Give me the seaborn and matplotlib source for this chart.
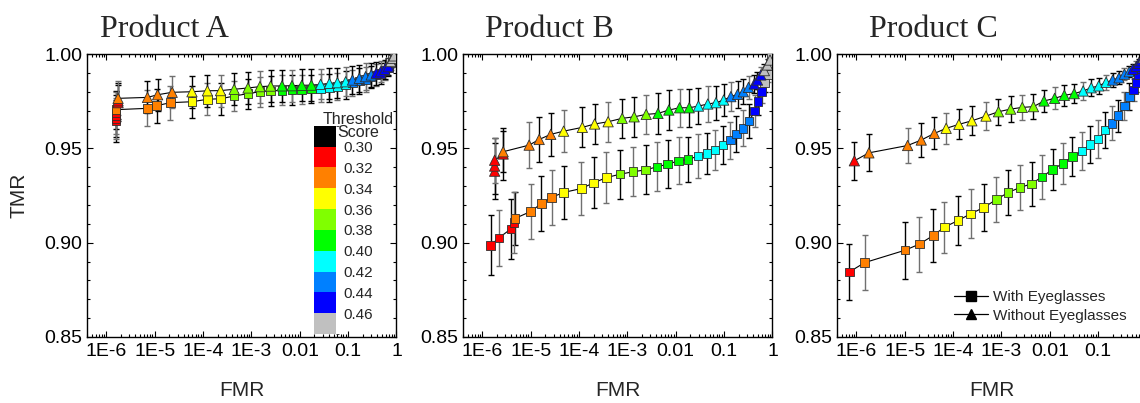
"""
Recreates the TMR vs FMR comparison (three products, with / without eyeglasses).
Marker colour encodes the threshold score.
"""

import matplotlib

matplotlib.use("Agg")

import matplotlib.pyplot as plt
import numpy as np
import pandas as pd
import seaborn as sns
from matplotlib.cm import ScalarMappable
from matplotlib.colors import BoundaryNorm, ListedColormap
from matplotlib.lines import Line2D
from matplotlib.ticker import FixedLocator, LogLocator, MultipleLocator, NullFormatter

# --- Threshold colour scale ---
SCORE_BOUNDS = [0.28, 0.30, 0.32, 0.34, 0.36, 0.38, 0.40, 0.42, 0.44, 0.46, 0.48]
SCORE_COLORS = ["#000000", "#FF0000", "#FF8000", "#FFFF00", "#80FF00",
                "#00FF00", "#00FFFF", "#0080FF", "#0000FF", "#C0C0C0"]
SCORE_TICKS = [0.30, 0.32, 0.34, 0.36, 0.38, 0.40, 0.42, 0.44, 0.46]

TITLES = ["Product A", "Product B", "Product C"]
XTICKS = [1e-6, 1e-5, 1e-4, 1e-3, 1e-2, 1e-1, 1]
XTICK_LABELS = ["1E-6", "1E-5", "1E-4", "1E-3", "0.01", "0.1", "1"]
YTICKS = [0.85, 0.90, 0.95, 1.00]

# --- Product A ---
A_WITH_FMR = [1.6e-6, 1.6e-6, 1.6e-6, 1.6e-6, 1.6e-6, 7.1e-6, 1.1e-5, 2.1e-5, 5.9e-5, 1.23e-4, 2.3e-4,
              4.4e-4, 8.5e-4, 1.5e-3, 2.5e-3, 4.3e-3, 6.9e-3, 1.1e-2, 1.74e-2, 2.7e-2, 4.1e-2, 6.0e-2,
              8.9e-2, 0.123, 0.17, 0.23, 0.30, 0.38, 0.47, 0.575, 0.68, 0.76, 0.83, 0.89]
A_WITH_TMR = [0.9645, 0.9658, 0.9672, 0.9688, 0.9705, 0.9712, 0.9726, 0.9742, 0.9747, 0.9760, 0.9763,
              0.9777, 0.9790, 0.9800, 0.9805, 0.9808, 0.9810, 0.9812, 0.9814, 0.9818, 0.9822, 0.9828,
              0.9836, 0.9846, 0.9856, 0.9866, 0.9878, 0.9888, 0.9898, 0.9912, 0.9928, 0.9955, 0.9972, 0.9985]
A_WITH_ERR = [0.011, 0.011, 0.011, 0.011, 0.010, 0.0095, 0.009, 0.009, 0.0085, 0.0085, 0.0085,
              0.008, 0.008, 0.008, 0.008, 0.008, 0.0078, 0.0077, 0.0076, 0.0075, 0.0074, 0.0073,
              0.0072, 0.007, 0.0068, 0.0065, 0.006, 0.0058, 0.0055, 0.005, 0.0045, 0.004, 0.003, 0.002]
A_WITH_SCORE = [0.300, 0.305, 0.310, 0.315, 0.320, 0.325, 0.330, 0.335, 0.340, 0.345, 0.350,
                0.360, 0.365, 0.370, 0.375, 0.380, 0.385, 0.390, 0.395, 0.400, 0.405, 0.410,
                0.415, 0.420, 0.425, 0.430, 0.435, 0.440, 0.445, 0.450, 0.455, 0.460, 0.465, 0.470]

A_WITHOUT_FMR = [1.75e-6, 1.75e-6, 1.75e-6, 7.1e-6, 1.15e-5, 2.3e-5, 5.9e-5, 1.23e-4, 2.3e-4,
                 4.4e-4, 8.5e-4, 1.5e-3, 2.5e-3, 4.3e-3, 6.9e-3, 1.1e-2, 1.74e-2, 2.7e-2, 4.1e-2, 6.0e-2,
                 8.9e-2, 0.123, 0.17, 0.23, 0.30, 0.38, 0.47, 0.575, 0.68, 0.76, 0.83, 0.89]
A_WITHOUT_TMR = [0.9742, 0.9752, 0.9765, 0.9770, 0.9784, 0.9797, 0.9800, 0.9805, 0.9806,
                 0.9813, 0.9820, 0.9827, 0.9830, 0.9831, 0.9832, 0.9834, 0.9835, 0.9839, 0.9844, 0.9848,
                 0.9853, 0.9862, 0.9871, 0.9880, 0.9889, 0.9898, 0.9906, 0.9919, 0.9933, 0.9960, 0.9977, 0.9990]
A_WITHOUT_ERR = [0.0095, 0.0095, 0.009, 0.0085, 0.0085, 0.0085, 0.0085, 0.0085, 0.0085,
                 0.0085, 0.0085, 0.0085, 0.0085, 0.0085, 0.0085, 0.0085, 0.0085, 0.008, 0.008, 0.008,
                 0.0078, 0.0075, 0.0072, 0.007, 0.0065, 0.006, 0.0055, 0.005, 0.0045, 0.0035, 0.003, 0.002]
A_WITHOUT_SCORE = [0.310, 0.315, 0.320, 0.325, 0.330, 0.335, 0.340, 0.345, 0.350,
                   0.360, 0.365, 0.370, 0.375, 0.380, 0.385, 0.390, 0.395, 0.400, 0.405, 0.410,
                   0.415, 0.420, 0.425, 0.430, 0.435, 0.440, 0.445, 0.450, 0.455, 0.460, 0.465, 0.470]

# --- Product B ---
B_WITH_FMR = [1.48e-6, 2.2e-6, 3.9e-6, 4.5e-6, 4.7e-6, 1.0e-5, 1.66e-5, 2.7e-5, 4.8e-5, 1.12e-4, 2.0e-4,
              3.7e-4, 7.1e-4, 1.32e-3, 2.4e-3, 4.1e-3, 6.8e-3, 1.15e-2, 1.8e-2, 2.9e-2, 4.4e-2, 6.5e-2,
              9.5e-2, 0.135, 0.18, 0.245, 0.33, 0.43, 0.50, 0.60, 0.69, 0.79, 0.89, 0.955]
B_WITH_TMR = [0.8986, 0.9025, 0.9073, 0.9107, 0.9128, 0.9165, 0.9207, 0.9240, 0.9266, 0.9287, 0.9317,
              0.9345, 0.9363, 0.9376, 0.9386, 0.9402, 0.9416, 0.9434, 0.9441, 0.9459, 0.9473, 0.9491,
              0.9517, 0.9544, 0.9575, 0.9606, 0.9644, 0.9698, 0.9747, 0.9800, 0.9850, 0.9890, 0.9950, 0.9986]
B_WITH_ERR = [0.016, 0.015, 0.016, 0.016, 0.014, 0.0148, 0.0145, 0.0145, 0.014, 0.014, 0.0135,
              0.0135, 0.013, 0.013, 0.013, 0.013, 0.0128, 0.0125, 0.012, 0.0115, 0.011, 0.0105,
              0.010, 0.0098, 0.0097, 0.0095, 0.009, 0.0085, 0.007, 0.006, 0.005, 0.004, 0.003, 0.002]
B_WITH_SCORE = [0.300, 0.305, 0.310, 0.315, 0.320, 0.325, 0.330, 0.335, 0.340, 0.345, 0.350,
                0.355, 0.360, 0.365, 0.370, 0.380, 0.385, 0.390, 0.395, 0.400, 0.405, 0.410,
                0.415, 0.420, 0.425, 0.430, 0.435, 0.440, 0.445, 0.450, 0.460, 0.465, 0.470, 0.475]

B_WITHOUT_FMR = [1.8e-6, 1.8e-6, 1.8e-6, 2.7e-6, 2.7e-6, 9.3e-6, 1.5e-5, 2.6e-5, 4.8e-5, 1.17e-4, 2.1e-4,
                 4.0e-4, 7.8e-4, 1.38e-3, 2.45e-3, 4.3e-3, 7.2e-3, 1.2e-2, 1.9e-2, 2.95e-2, 4.6e-2, 6.8e-2,
                 9.8e-2, 0.138, 0.19, 0.25, 0.32, 0.42, 0.49, 0.575, 0.68, 0.79, 0.89]
B_WITHOUT_TMR = [0.9379, 0.9406, 0.9437, 0.9470, 0.9482, 0.9517, 0.9547, 0.9574, 0.9591, 0.9611, 0.9629,
                 0.9641, 0.9659, 0.9667, 0.9680, 0.9685, 0.9703, 0.9715, 0.9715, 0.9724, 0.9735, 0.9742,
                 0.9756, 0.9774, 0.9786, 0.9800, 0.9823, 0.9841, 0.9862, 0.9889, 0.9912, 0.9942, 0.9968]
B_WITHOUT_ERR = [0.015, 0.015, 0.012, 0.014, 0.011, 0.012, 0.012, 0.0115, 0.011, 0.0106, 0.0105,
                 0.0105, 0.0105, 0.0105, 0.0105, 0.011, 0.0105, 0.010, 0.010, 0.0097, 0.0093, 0.009,
                 0.0085, 0.0075, 0.007, 0.0065, 0.006, 0.005, 0.0045, 0.004, 0.0035, 0.003, 0.002]
B_WITHOUT_SCORE = [0.300, 0.305, 0.310, 0.315, 0.320, 0.325, 0.330, 0.335, 0.340, 0.345, 0.350,
                   0.355, 0.360, 0.365, 0.370, 0.380, 0.385, 0.390, 0.395, 0.400, 0.405, 0.410,
                   0.415, 0.420, 0.425, 0.430, 0.435, 0.440, 0.445, 0.450, 0.460, 0.465, 0.470]

# --- Product C ---
C_WITH_FMR = [7.2e-7, 1.48e-6, 1.02e-5, 2.0e-5, 3.9e-5, 6.6e-5, 1.26e-4, 2.3e-4, 4.3e-4, 7.9e-4, 1.38e-3,
              2.4e-3, 4.2e-3, 6.9e-3, 1.15e-2, 1.86e-2, 2.95e-2, 4.6e-2, 6.8e-2, 0.10, 0.14, 0.195,
              0.26, 0.35, 0.44, 0.54, 0.62, 0.69, 0.78, 0.87, 0.95]
C_WITH_TMR = [0.8845, 0.8894, 0.8960, 0.8992, 0.9038, 0.9082, 0.9117, 0.9153, 0.9186, 0.9229, 0.9266,
              0.9292, 0.9312, 0.9349, 0.9388, 0.9420, 0.9457, 0.9485, 0.9521, 0.9549, 0.9597, 0.9632,
              0.9673, 0.9724, 0.9774, 0.9810, 0.9848, 0.9889, 0.9920, 0.9955, 0.9985]
C_WITH_ERR = [0.015, 0.0146, 0.015, 0.0145, 0.014, 0.0135, 0.013, 0.013, 0.0125, 0.012, 0.012,
              0.0118, 0.0117, 0.0115, 0.011, 0.011, 0.0105, 0.0102, 0.010, 0.0099, 0.0095, 0.009,
              0.0085, 0.0075, 0.007, 0.006, 0.005, 0.0045, 0.004, 0.003, 0.002]
C_WITH_SCORE = [0.315, 0.320, 0.325, 0.330, 0.335, 0.340, 0.345, 0.350, 0.355, 0.360, 0.365,
                0.370, 0.375, 0.380, 0.385, 0.390, 0.395, 0.400, 0.405, 0.410, 0.415, 0.420,
                0.425, 0.430, 0.435, 0.440, 0.445, 0.450, 0.455, 0.460, 0.465]

C_WITHOUT_FMR = [9.1e-7, 1.82e-6, 1.15e-5, 2.2e-5, 4.1e-5, 7.2e-5, 1.32e-4, 2.45e-4, 4.8e-4, 8.7e-4, 1.55e-3,
                 2.7e-3, 4.6e-3, 7.6e-3, 1.26e-2, 2.0e-2, 3.2e-2, 4.9e-2, 7.2e-2, 0.103, 0.146, 0.20,
                 0.27, 0.35, 0.44, 0.52, 0.62, 0.69, 0.78, 0.87, 0.95]
C_WITHOUT_TMR = [0.9434, 0.9476, 0.9515, 0.9544, 0.9579, 0.9606, 0.9627, 0.9646, 0.9671, 0.9694, 0.9708,
                 0.9717, 0.9721, 0.9751, 0.9765, 0.9781, 0.9790, 0.9804, 0.9821, 0.9831, 0.9850, 0.9862,
                 0.9874, 0.9893, 0.9906, 0.9919, 0.9935, 0.9950, 0.9965, 0.9980, 0.9993]
C_WITHOUT_ERR = [0.010, 0.0098, 0.0093, 0.009, 0.0085, 0.0082, 0.008, 0.0077, 0.0073, 0.007, 0.0068,
                 0.0066, 0.0066, 0.006, 0.0058, 0.0055, 0.005, 0.0048, 0.0045, 0.0043, 0.004, 0.0038,
                 0.0035, 0.0033, 0.003, 0.003, 0.0028, 0.0025, 0.002, 0.0015, 0.001]
C_WITHOUT_SCORE = [0.315, 0.320, 0.325, 0.330, 0.335, 0.340, 0.345, 0.350, 0.355, 0.360, 0.365,
                   0.370, 0.375, 0.380, 0.385, 0.390, 0.395, 0.400, 0.405, 0.410, 0.415, 0.420,
                   0.425, 0.430, 0.435, 0.440, 0.445, 0.450, 0.455, 0.460, 0.465]

GREY_BAR = "#707070"

sns.set_style("ticks")
plt.rcParams["font.family"] = ["Liberation Sans", "DejaVu Sans"]


def frame(fmr, tmr, err, score):
    df = pd.DataFrame({"fmr": fmr, "tmr": tmr, "err": err, "score": score})
    df["bin"] = np.digitize(df["score"], SCORE_BOUNDS) - 1
    return df


def draw_series(ax, df, marker, size, grey_mod, grey_hit, z):
    sns.lineplot(data=df, x="fmr", y="tmr", estimator=None, sort=False,
                 color="black", lw=0.8, ax=ax, zorder=2)
    grey = (np.arange(len(df)) % grey_mod) == grey_hit
    for mask, col in ((~grey, "black"), (grey, GREY_BAR)):
        sub = df[mask]
        ax.errorbar(sub["fmr"], sub["tmr"], yerr=sub["err"], fmt="none", ecolor=col,
                    elinewidth=1.0, capsize=2.3, capthick=1.0, zorder=1.5)
    sns.scatterplot(data=df, x="fmr", y="tmr", hue="bin",
                    palette={i: c for i, c in enumerate(SCORE_COLORS)},
                    marker=marker, s=size, edgecolor="#303030", linewidth=0.6,
                    legend=False, ax=ax, zorder=z)


PANEL_DATA = [
    (frame(A_WITH_FMR, A_WITH_TMR, A_WITH_ERR, A_WITH_SCORE),
     frame(A_WITHOUT_FMR, A_WITHOUT_TMR, A_WITHOUT_ERR, A_WITHOUT_SCORE)),
    (frame(B_WITH_FMR, B_WITH_TMR, B_WITH_ERR, B_WITH_SCORE),
     frame(B_WITHOUT_FMR, B_WITHOUT_TMR, B_WITHOUT_ERR, B_WITHOUT_SCORE)),
    (frame(C_WITH_FMR, C_WITH_TMR, C_WITH_ERR, C_WITH_SCORE),
     frame(C_WITHOUT_FMR, C_WITHOUT_TMR, C_WITHOUT_ERR, C_WITHOUT_SCORE)),
]

fig = plt.figure(figsize=(11.4, 4.03), dpi=100)
lefts = [0.0763, 0.4061, 0.7342]
title_x = [0.042, 0.071, 0.104]
axes = [fig.add_axes([l, 0.1638, 0.2715, 0.7022]) for l in lefts]

for i, (ax, (with_df, without_df)) in enumerate(zip(axes, PANEL_DATA)):
    ax.set_xscale("log")
    draw_series(ax, with_df, "s", 38, 2, 1, 3)
    draw_series(ax, without_df, "^", 55, 3, 2, 3.1)

    ax.set_xlim(10 ** -6.4, 1)
    ax.set_ylim(0.85, 1.0)
    ax.xaxis.set_major_locator(FixedLocator(XTICKS))
    labels = list(XTICK_LABELS)
    if i == 2:
        labels[-1] = ""  # this tick falls past the right edge of the picture
    ax.set_xticklabels(labels)
    ax.xaxis.set_minor_locator(LogLocator(base=10, subs=np.arange(2, 10), numticks=30))
    ax.xaxis.set_minor_formatter(NullFormatter())
    ax.yaxis.set_major_locator(FixedLocator(YTICKS))
    ax.set_yticklabels([f"{v:.2f}" for v in YTICKS])
    ax.yaxis.set_minor_locator(MultipleLocator(0.01))
    ax.tick_params(which="both", direction="in", top=True, right=True, width=0.8, colors="black")
    ax.tick_params(which="major", length=4.5, labelsize=14)
    ax.tick_params(axis="x", which="major", pad=4)
    ax.tick_params(axis="y", which="major", pad=3.5)
    ax.tick_params(which="minor", length=2.5)
    for sp in ax.spines.values():
        sp.set_color("black")
        sp.set_linewidth(1.0)

    ax.set_xlabel("FMR", fontsize=15)
    ax.xaxis.set_label_coords(0.5, -0.155)
    ax.set_ylabel("")
    ax.text(title_x[i], 1.06, TITLES[i], transform=ax.transAxes, ha="left", va="baseline",
            fontsize=23, family="Liberation Serif")

axes[0].set_ylabel("TMR", fontsize=15)
axes[0].yaxis.set_label_coords(-0.19, 0.5)

# Threshold score colour key in the first panel
cmap = ListedColormap(SCORE_COLORS)
norm = BoundaryNorm(SCORE_BOUNDS, cmap.N)
cax = axes[0].inset_axes([0.732, 0.0106, 0.074, 0.7356])
cb = fig.colorbar(ScalarMappable(norm=norm, cmap=cmap), cax=cax, ticks=SCORE_TICKS)
cb.outline.set_visible(False)
cax.invert_yaxis()
cax.tick_params(length=0, labelsize=11, pad=5)
cb.set_ticklabels([f"{v:.2f}" for v in SCORE_TICKS])
axes[0].text(0.877, 0.706, "Threshold\nScore", transform=axes[0].transAxes, ha="center",
             va="baseline", fontsize=11.5, linespacing=0.82)

# Marker legend in the last panel
handles = [
    Line2D([], [], color="black", lw=0.9, marker="s", markersize=6.5, label="With Eyeglasses"),
    Line2D([], [], color="black", lw=0.9, marker="^", markersize=7.5, label="Without Eyeglasses"),
]
axes[2].legend(handles=handles, loc="lower left", bbox_to_anchor=(0.379, 0.05),
               frameon=False, fontsize=11, handlelength=2.2, handletextpad=0.35,
               labelspacing=0.3, borderpad=0, borderaxespad=0)

fig.savefig("out.png", dpi=100)
